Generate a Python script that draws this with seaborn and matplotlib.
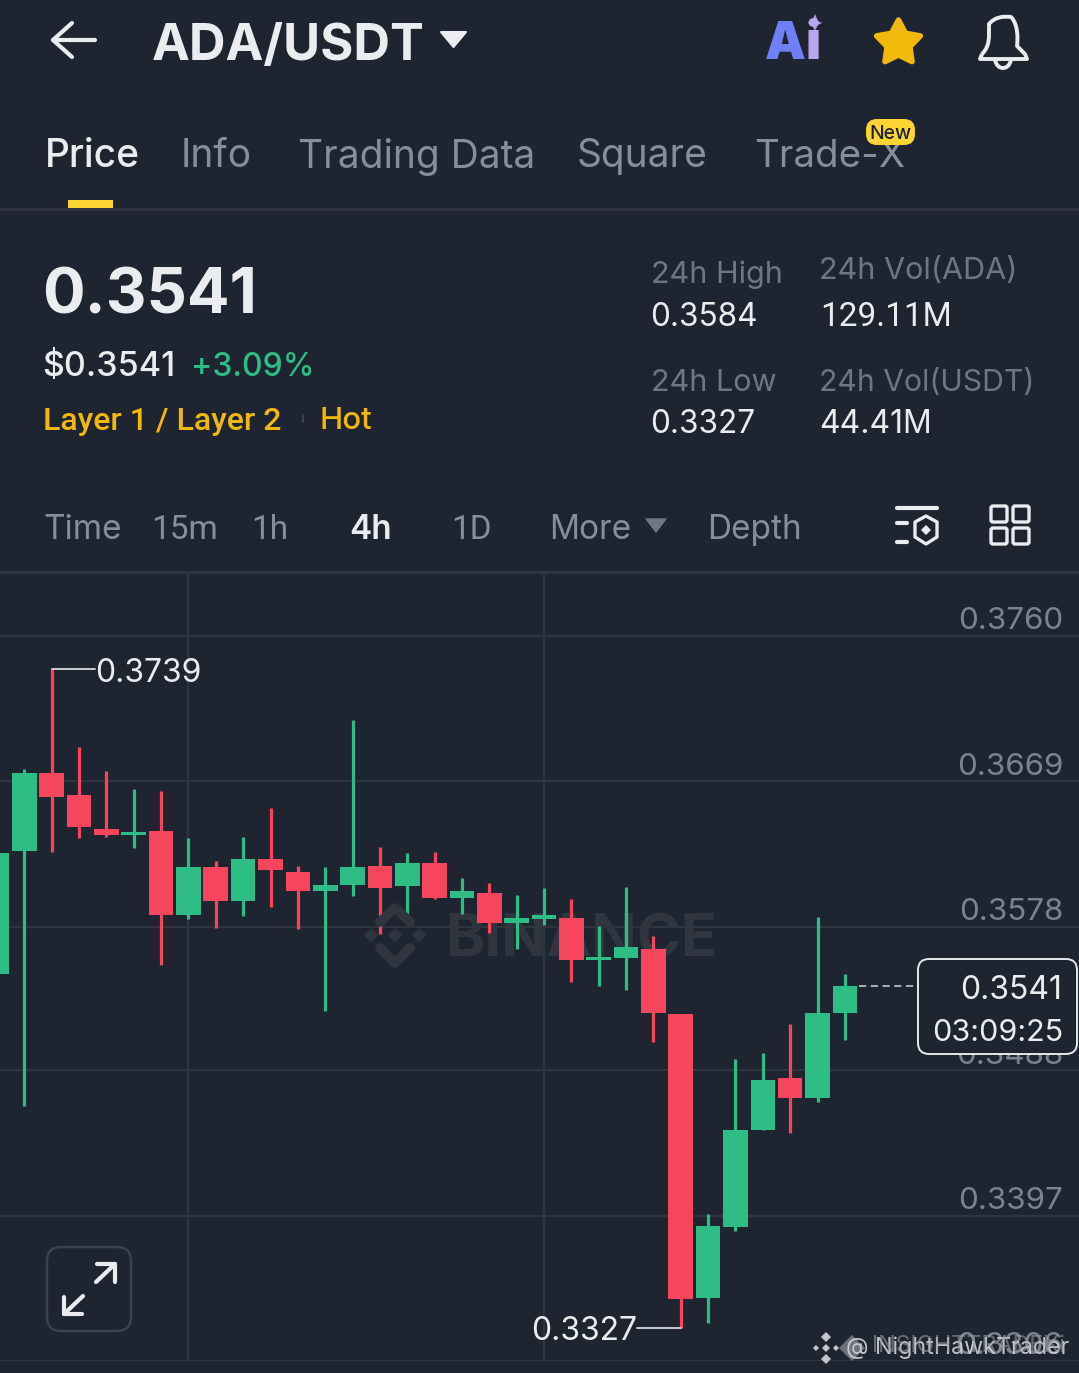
import numpy as np
import pandas as pd
import matplotlib
matplotlib.use("Agg")
import matplotlib.pyplot as plt
from matplotlib.patches import FancyBboxPatch, PathPatch, Polygon, Rectangle
from matplotlib.path import Path
from matplotlib.transforms import ScaledTranslation
import seaborn as sns

# candles, 4h, left to right
opens = [.35483, .36254, .36742, .36604, .36391, .36354, .36379, .35853, .36153, .35941, .36204,
         .36122, .36003, .36041, .36160, .36034, .36179, .35959, .35991, .35803, .35828, .35834,
         .35571, .35584, .35640, .35233, .33455, .33899, .34507, .34832, .34707, .35239]
closes = [.36241, .36742, .36592, .36404, .36354, .36373, .35853, .36153, .35941, .36204, .36135,
          .36003, .36041, .36153, .36022, .36179, .35959, .36003, .35803, .35834, .35853, .35571,
          .35590, .35653, .35239, .33448, .33905, .34507, .34820, .34707, .35239, .35408]
highs = [.36241, .36767, .37393, .36905, .36755, .36642, .36629, .36335, .36191, .36341, .36523,
         .36160, .36153, .37074, .36279, .36241, .36247, .36085, .36053, .35978, .36022, .35953,
         .35784, .36028, .35721, .35233, .33981, .34951, .34989, .35170, .35840, .35483]
lows = [.35483, .34657, .36247, .36335, .36341, .36272, .35540, .35828, .35771, .35847, .35903,
        .35765, .35252, .35972, .35734, .35840, .35953, .35859, .35740, .35640, .35790, .35433,
        .35408, .35383, .35058, .33267, .33298, .33874, .34507, .34488, .34682, .35070]
price_ticks = [.3760, .3669, .3578, .3488, .3397, .3306]
price_labels = ["0.3760", "0.3669", "0.3578", "0.3488", "0.3397", "0.3306"]
time_ticks = [7, 20]

BG = "#1e2430"
GREEN = "#2ebd85"
RED = "#f6465d"
GRID = "#2f343f"
GREY = "#848e9c"
WHITE = "#eaecef"
YELLOW = "#f0b90b"
XLIM = (0.11, 39.56)
YLIM = (.3306, .38001)

sns.set_theme(style="dark")
plt.rcParams["font.family"] = ["Inter", "DejaVu Sans"]
plt.rcParams["axes.unicode_minus"] = False

df = pd.DataFrame({"open": opens, "close": closes, "high": highs, "low": lows})
df["candle"] = range(len(df))
df["up"] = df["close"] >= df["open"]
wicks = df.melt(id_vars=["candle", "up"], value_vars=["high", "low"], value_name="price")
wicks = wicks.sort_values(["candle", "variable"])

W, H = 1079, 1373
fig = plt.figure(figsize=(W / 100, H / 100), dpi=100, facecolor=BG)

# chart part: y 572..1361 px of the screenshot
ax = fig.add_axes([0, (H - 1361) / H, 1, (1361 - 572) / H], facecolor=BG)
ax.set_xlim(*XLIM)
ax.set_ylim(*YLIM)
ax.set_yticks(price_ticks, price_labels)
ax.set_xticks(time_ticks, [])
ax.grid(True, color=GRID, lw=1.6)
ax.set_axisbelow(True)
for s in ax.spines.values():
    s.set_visible(False)
ax.yaxis.tick_right()
ax.tick_params(axis="y", length=0, pad=-11.5, labelsize=22.6, labelcolor="#7d838e")
ax.tick_params(axis="x", length=0)
for lab in ax.get_yticklabels():
    lab.set_ha("right")
    lab.set_va("bottom")
    lab.set_transform(lab.get_transform() + ScaledTranslation(0, 0.5 / 72, fig.dpi_scale_trans))

# watermark under the candles
ax.text(16.4, .35690, "BINANCE", color="#30353f", fontsize=43, fontweight="bold",
        ha="left", va="center", zorder=1)

sns.lineplot(data=wicks, x="candle", y="price", units="candle", estimator=None, hue="up",
             palette={True: GREEN, False: RED}, lw=2.3, legend=False, ax=ax,
             solid_capstyle="butt", zorder=3)
ax.set_xlabel("")
ax.set_ylabel("")
ax.set_xlim(*XLIM)
ax.set_ylim(*YLIM)
ax.bar(df["candle"], (df["close"] - df["open"]).abs(), width=0.9,
       bottom=df[["open", "close"]].min(axis=1), edgecolor="none", linewidth=0,
       color=[GREEN if u else RED for u in df["up"]], zorder=4)

# high/low labels and last price line
ax.plot([2, 3.6], [highs[2], highs[2]], color="#c9ccd2", lw=1.4, zorder=5)
ax.text(3.58, highs[2] - .00025, "0.3739", color=WHITE, fontsize=23, va="center", zorder=5)
ax.plot([23.4, 25], [lows[25], lows[25]], color="#c9ccd2", lw=1.4, zorder=5)
ax.text(23.4, lows[25] - .00025, "0.3327", color=WHITE, fontsize=23, va="center", ha="right", zorder=5)
ax.plot([31.5, 33.6], [closes[31], closes[31]], color="#b7bbc2", lw=1.3, ls=(0, (4, 2.5)), zorder=2)

# overlay in screenshot pixels for the app chrome
ui = fig.add_axes([0, 0, 1, 1], facecolor="none")
ui.set_xlim(0, W)
ui.set_ylim(H, 0)
ui.axis("off")


def txt(x, y, s, size=22, color=WHITE, ha="left", weight="normal", **kw):
    # va=center sits a bit high, push down with font size
    return ui.text(x, y + 0.14 * size, s, fontsize=size, color=color, ha=ha, va="center", fontweight=weight, **kw)


def line(xs, ys, color=WHITE, lw=2.5, **kw):
    ui.plot(xs, ys, color=color, lw=lw, solid_capstyle="round", solid_joinstyle="round", **kw)


def round_box(x0, y0, x1, y1, r, **kw):
    ui.add_patch(FancyBboxPatch((x0 + r, y0 + r), x1 - x0 - 2 * r, y1 - y0 - 2 * r,
                                boxstyle=f"round,pad={r},rounding_size={r}", **kw))


def diamond(cx, cy, r, color, **kw):
    ui.add_patch(Polygon([[cx, cy - r], [cx + r, cy], [cx, cy + r], [cx - r, cy]], fc=color, ec="none", **kw))


# header
line([95, 53, 72], [40, 40, 23], lw=3)
line([53, 72], [40, 57], lw=3)
txt(152, 41, "ADA/USDT", 36.5, weight="bold")
ui.add_patch(Polygon([[441, 32], [466, 32], [453.5, 47]], closed=True, fc=WHITE, ec=WHITE, lw=1.5, joinstyle="round"))
txt(765, 40, "A", 37, "#6f80f7", weight="black")
txt(805, 40, "i", 37, "#b9a6ee", weight="black")
ui.add_patch(Polygon([[815, 14], [818, 21], [822, 23], [818, 25], [815, 31], [812, 25], [808, 23], [812, 21]],
                     closed=True, fc="#a695ea", ec="none"))
ang = np.deg2rad(np.arange(0, 360, 36) - 90)
rad = np.array([23, 12] * 5)
ui.add_patch(Polygon(np.c_[898.5 + rad * np.cos(ang), 43 + rad * np.sin(ang)], closed=True,
                     fc=YELLOW, ec=YELLOW, lw=4, joinstyle="round"))
bell = Path([(982, 54), (990, 46), (989, 38), (989, 24), (995, 17), (1003, 16), (1011, 17), (1018, 24),
             (1018, 38), (1017, 46), (1025, 54), (1027, 59), (980, 59), (982, 54)],
            [Path.MOVETO] + [Path.CURVE4] * 9 + [Path.LINETO] * 4)
ui.add_patch(PathPatch(bell, fc="none", ec=WHITE, lw=2.8, joinstyle="round"))
ui.add_patch(PathPatch(Path([(995, 60), (997, 68), (1003, 68), (1009, 68), (1011, 60)],
                            [Path.MOVETO, Path.CURVE3, Path.CURVE3, Path.CURVE3, Path.CURVE3]),
                       fc="none", ec=WHITE, lw=2.8))

# tabs
txt(45, 153, "Price", 28, weight="medium")
txt(181, 153, "Info", 28, GREY)
txt(298, 153, "Trading Data", 28, GREY)
txt(577, 153, "Square", 28, GREY)
txt(754, 153, "Trade-X", 27.7, GREY)
round_box(866, 119, 915, 145, 11, fc="#fcd535", ec="none", zorder=3)
txt(890.5, 132, "New", 14, "#1e2329", ha="center", weight="medium", zorder=4)
ui.add_patch(Rectangle((68, 200), 45, 8, fc="#fcd535", ec="none"))
line([0, W], [209, 209], GRID, 2)

# price block
txt(42, 291, "0.3541", 45.5, weight="bold")
txt(42, 364, "$0.3541", 24.5, weight="medium")
txt(191, 364, "+3.09%", 23, GREEN, weight="medium")
txt(43, 418, "Layer 1 / Layer 2", 23, YELLOW, weight="medium", family="Roboto")
line([303, 303], [415, 422], "#3b404a", 1.5)
txt(320, 418, "Hot", 22.5, YELLOW, weight="medium")

txt(651, 272, "24h High", 22, "#6f7683")
txt(650, 314, "0.3584", 22.7)
txt(819, 268, "24h Vol(ADA)", 22, "#6f7683")
txt(820, 314, "129.11M", 24, family="Roboto")
txt(651, 380, "24h Low", 22, "#6f7683")
txt(650, 421, "0.3327", 22.7)
txt(819, 380, "24h Vol(USDT)", 21.7, "#6f7683")
txt(819, 421, "44.41M", 23)

# interval bar
for x, s, fam in [(43, "Time", "Inter"), (151, "15m", "Roboto"), (251, "1h", "Roboto"),
                  (451, "1D", "Roboto"), (549, "More", "Inter"), (707, "Depth", "Inter")]:
    txt(x, 527, s, 24, GREY, family=fam)
txt(349, 527, "4h", 24, weight="semibold")
ui.add_patch(Polygon([[646, 519], [666, 519], [656, 532]], closed=True, fc="#6f7683", ec="#6f7683", lw=1, joinstyle="round"))
line([0, W], [571.5, 571.5], GRID, 2)
line([897, 937], [508, 508], WHITE, 3)
line([897, 907], [523, 523], WHITE, 3)
line([897, 907], [542, 542], WHITE, 3)
ui.add_patch(Polygon([[926, 516], [937, 522], [937, 537], [926, 544], [915, 537], [915, 522]], closed=True,
                     fc="none", ec=WHITE, lw=2.4, joinstyle="round"))
diamond(926, 530, 5, WHITE)
for x0, y0 in [(991, 506), (1013, 506), (991, 528), (1013, 528)]:
    round_box(x0, y0, x0 + 16, y0 + 16, 2, fc="none", ec=WHITE, lw=2.4)

# binance logo behind the candles
for cx in [395, 371, 419]:
    diamond(cx, 935, 7, "#30353f", zorder=-1)
line([380, 395, 410], [922, 908, 922], "#30353f", 7, zorder=-1)
line([380, 395, 410], [948, 963, 948], "#30353f", 7, zorder=-1)

# last price box
round_box(918, 959, 1077, 1054, 11, fc=BG, ec="#e6e8ea", lw=1.4, zorder=5)
txt(1062, 987, "0.3541", 23, ha="right", zorder=6)
txt(1063, 1030, "03:09:25", 22, ha="right", zorder=6)

# expand button
round_box(47, 1247, 131, 1331, 14, fc=BG, ec="#3c414c", lw=1.8)
line([64, 83], [1314, 1296], WHITE, 3)
line([64, 64, 82], [1297, 1314, 1314], WHITE, 3)
line([96, 115], [1282, 1264], WHITE, 3)
line([97, 115, 115], [1264, 1264, 1282], WHITE, 3)

# reposted watermarks, two on top of each other
for cx, cy, r in [(826, 1348, 4), (816, 1348, 3), (836, 1348, 3), (826, 1337, 5), (826, 1359, 5)]:
    diamond(cx, cy, r, "#c4c6ca", zorder=6)
diamond(852, 1348, 13, "#6e727a", zorder=6)
txt(846, 1345, "@ NightHawkTrader", 16.8, "#d0d2d6", zorder=7, alpha=0.9)
txt(872, 1344, "INSIGHTTRADEXi", 16.8, "#9a9da3", zorder=7, alpha=0.6)

fig.savefig("out.png", dpi=100, facecolor=BG)
